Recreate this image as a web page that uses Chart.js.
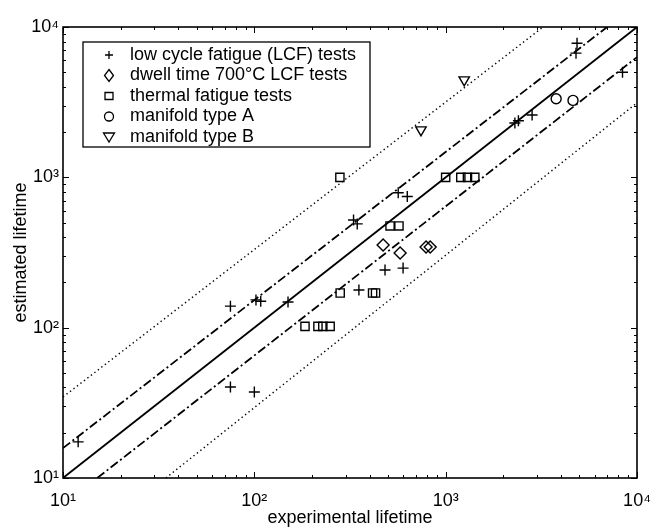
<!DOCTYPE html>
<html>
<head>
<meta charset="utf-8">
<script src="https://cdn.jsdelivr.net/npm/chart.js@4.4.0/dist/chart.umd.min.js"></script>
<style>
  html, body { margin: 0; padding: 0; background: #fff; }
  #wrap { width: 658px; height: 529px; }
</style>
</head>
<body>
<div id="wrap"><canvas id="lifeChart" width="658" height="529"></canvas></div>
<script>
// ── Axes ──────────────────────────────────────────────────
const AXIS_MIN = 10, AXIS_MAX = 10000;
const majorTicks  = [10, 100, 1000, 10000];
const majorLabels = ['10¹', '10²', '10³', '10⁴'];
const minorSteps  = [2, 3, 4, 5, 6, 7, 8, 9];

// ── Measured points (experimental, estimated) ─────────────
const lcfX = [12, 75, 102, 108, 150, 75, 100, 330, 345, 565, 630, 482, 599, 352, 2300, 2400, 2830, 4860, 4800, 8400];
const lcfY = [17.4, 139, 153, 150, 148, 40.3, 37.3, 520, 490, 790, 745, 242, 249, 178, 2300, 2380, 2600, 7800, 6700, 5000];

const dwellX = [471, 578, 790, 830];
const dwellY = [355, 314, 344, 344];

const thermalX = [280, 1000, 1200, 1300, 1420, 512, 570, 281, 415, 430, 184, 215, 228, 249];
const thermalY = [1000, 1000, 1000, 1000, 1000, 475, 475, 170, 170, 170, 102, 102, 102, 102];

const manifoldAX = [3780, 4630];
const manifoldAY = [3330, 3250];

const manifoldBX = [743, 1250];
const manifoldBY = [2070, 4450];

// ── Reference lines (end points) ──────────────────────────
const identityX   = [10, 10000],   identityY   = [10, 10000];
const upperBandX  = [10, 6980],    upperBandY  = [15.8, 10000];
const lowerBandX  = [15.1, 10000], lowerBandY  = [10, 6300];
const upperLimitX = [10, 3230],    upperLimitY = [34.6, 10000];
const lowerLimitX = [34.5, 10000], lowerLimitY = [10, 3130];

const FONT = '"Liberation Sans", Arial, Helvetica, sans-serif';

function pts(xs, ys) { return xs.map((x, i) => ({ x, y: ys[i] })); }

function refLine(xs, ys, dash, width) {
  return {
    data: pts(xs, ys), showLine: true, pointRadius: 0, borderColor: '#000',
    borderWidth: width, borderDash: dash, tension: 0, fill: false,
  };
}

function markers(label, xs, ys, style, radius, legendMarker, rotation) {
  return {
    label, legendMarker, data: pts(xs, ys), showLine: false,
    pointStyle: style, pointRadius: radius, pointHoverRadius: radius,
    pointRotation: rotation || 0,
    borderColor: '#000', backgroundColor: 'rgba(0,0,0,0)', pointBorderWidth: 1.4,
  };
}

// small marker glyphs for the legend box
function drawGlyph(ctx, kind, x, y) {
  ctx.beginPath();
  if (kind === 'plus') {
    ctx.moveTo(x - 4, y); ctx.lineTo(x + 4, y);
    ctx.moveTo(x, y - 4); ctx.lineTo(x, y + 4);
  } else if (kind === 'diamond') {
    ctx.moveTo(x, y - 6); ctx.lineTo(x + 4.5, y); ctx.lineTo(x, y + 6); ctx.lineTo(x - 4.5, y); ctx.closePath();
  } else if (kind === 'square') {
    ctx.rect(x - 4, y - 3.5, 8, 7);
  } else if (kind === 'circle') {
    ctx.arc(x, y, 4.5, 0, Math.PI * 2);
  } else if (kind === 'tri') {
    ctx.moveTo(x - 5.5, y - 4); ctx.lineTo(x + 5.5, y - 4); ctx.lineTo(x, y + 5); ctx.closePath();
  }
  ctx.stroke();
}

// ── Plugins ───────────────────────────────────────────────
const boxTicks = {
  id: 'boxTicks',
  afterDraw(chart) {
    const { ctx, chartArea: a, scales: { x, y } } = chart;
    ctx.save();
    ctx.strokeStyle = '#000';
    ctx.lineWidth = 1.6;
    ctx.strokeRect(a.left, a.top, a.right - a.left, a.bottom - a.top);
    ctx.lineWidth = 1;
    ctx.beginPath();
    x.ticks.forEach(t => {
      const px = Math.round(x.getPixelForValue(t.value)) + 0.5;
      const len = majorTicks.includes(t.value) ? 6 : 3;
      ctx.moveTo(px, a.bottom); ctx.lineTo(px, a.bottom - len);
      ctx.moveTo(px, a.top);    ctx.lineTo(px, a.top + len);
    });
    y.ticks.forEach(t => {
      const py = Math.round(y.getPixelForValue(t.value)) + 0.5;
      const len = majorTicks.includes(t.value) ? 6 : 3;
      ctx.moveTo(a.left, py);  ctx.lineTo(a.left + len, py);
      ctx.moveTo(a.right, py); ctx.lineTo(a.right - len, py);
    });
    ctx.stroke();

    // axis titles
    ctx.fillStyle = '#000';
    ctx.font = '18px ' + FONT;
    ctx.textAlign = 'center';
    ctx.textBaseline = 'middle';
    ctx.fillText('experimental lifetime', (a.left + a.right) / 2, 518);
    ctx.translate(21, (a.top + a.bottom) / 2);
    ctx.rotate(-Math.PI / 2);
    ctx.fillText('estimated lifetime', 0, 0);
    ctx.restore();
  },
};

const insideLegend = {
  id: 'insideLegend',
  afterDraw(chart) {
    const { ctx, chartArea: a } = chart;
    const items = chart.data.datasets.filter(d => d.legendMarker);
    const bx = a.left + 20, by = a.top + 15, bw = 287, bh = 105;
    ctx.save();
    ctx.fillStyle = '#fff';
    ctx.fillRect(bx, by, bw, bh);
    ctx.strokeStyle = '#000';
    ctx.lineWidth = 1.3;
    ctx.strokeRect(bx, by, bw, bh);
    ctx.font = '18px ' + FONT;
    ctx.textAlign = 'left';
    ctx.textBaseline = 'middle';
    ctx.fillStyle = '#000';
    items.forEach((d, i) => {
      const cy = by + 13 + i * 20.5;
      drawGlyph(ctx, d.legendMarker, bx + 26, cy);
      ctx.fillText(d.label, bx + 47, cy);
    });
    ctx.restore();
  },
};

// ── Chart ─────────────────────────────────────────────────
function tickList() {
  const list = [];
  majorTicks.forEach(m => {
    list.push({ value: m });
    if (m < AXIS_MAX) minorSteps.forEach(s => list.push({ value: m * s }));
  });
  return list;
}

function logAxis(fit, padding) {
  return {
    type: 'logarithmic', min: AXIS_MIN, max: AXIS_MAX,
    grid: { display: false, drawTicks: false },
    border: { display: false },
    afterBuildTicks: s => { s.ticks = tickList(); },
    afterFit: s => {
      fit(s);
      s.paddingLeft = s.paddingRight = s.paddingTop = s.paddingBottom = 0;
    },
    ticks: {
      autoSkip: false, maxRotation: 0, minRotation: 0, padding,
      color: '#000', font: { family: FONT, size: 18 },
      callback: v => {
        const i = majorTicks.indexOf(v);
        return i >= 0 ? majorLabels[i] : '';
      },
    },
  };
}

new Chart(document.getElementById('lifeChart'), {
  type: 'scatter',
  data: {
    datasets: [
      refLine(identityX, identityY, [], 1.8),
      refLine(upperBandX, upperBandY, [9, 3, 2, 3], 1.8),
      refLine(lowerBandX, lowerBandY, [9, 3, 2, 3], 1.8),
      refLine(upperLimitX, upperLimitY, [1.4, 3], 1.4),
      refLine(lowerLimitX, lowerLimitY, [1.4, 3], 1.4),
      markers('low cycle fatigue (LCF) tests', lcfX, lcfY, 'cross', 5.5, 'plus'),
      markers('dwell time 700°C LCF tests', dwellX, dwellY, 'rectRot', 6, 'diamond'),
      markers('thermal fatigue tests', thermalX, thermalY, 'rect', 5.8, 'square'),
      markers('manifold type A', manifoldAX, manifoldAY, 'circle', 5, 'circle'),
      markers('manifold type B', manifoldBX, manifoldBY, 'triangle', 6, 'tri', 180),
    ],
  },
  options: {
    responsive: false,
    animation: false,
    layout: { padding: { top: 27, right: 21, left: 0, bottom: 0 } },
    scales: {
      x: logAxis(s => { s.height = 51; }, 12),
      y: logAxis(s => { s.width = 63; }, 4),
    },
    plugins: {
      legend: { display: false },
      tooltip: { enabled: false },
    },
  },
  plugins: [boxTicks, insideLegend],
});
</script>
</body>
</html>
